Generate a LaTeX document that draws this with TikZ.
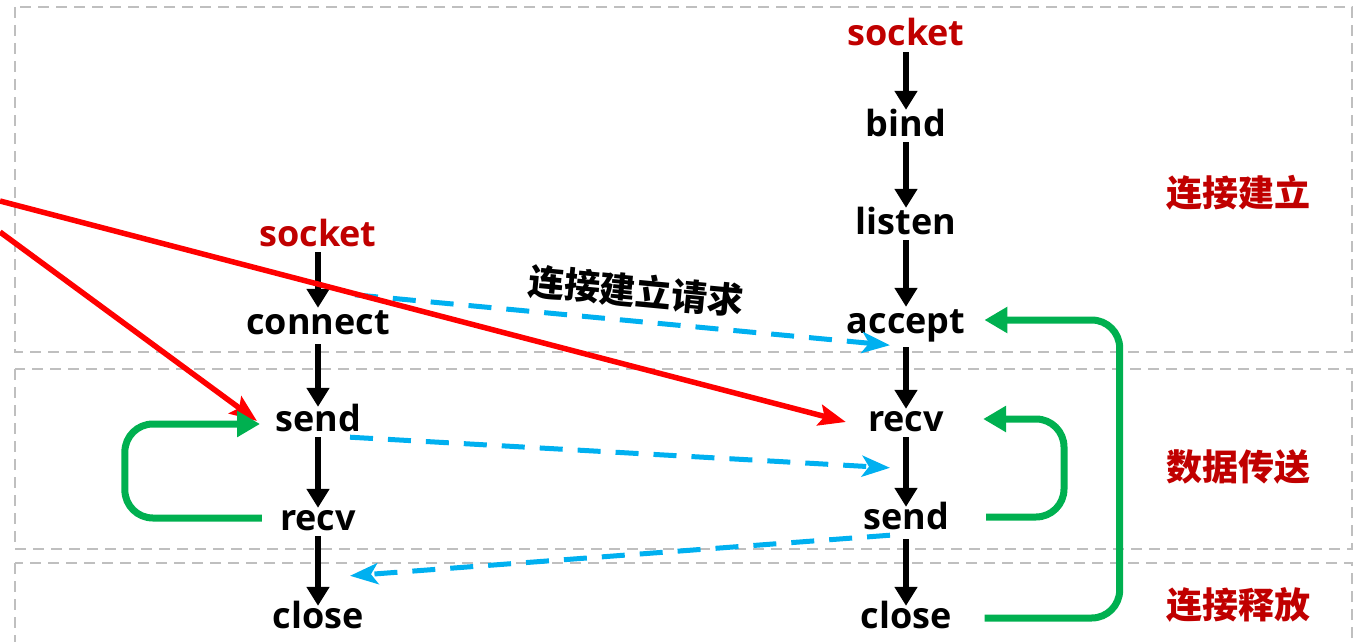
\documentclass[tikz,border=0pt]{standalone}
\usepackage{fontspec}
\setmainfont{Open Sans}
\newfontfamily\cjk{Noto Sans CJK SC}
\usetikzlibrary{arrows.meta,calc}
\definecolor{sred}{HTML}{C00000}
\definecolor{lred}{HTML}{FF0000}
\definecolor{lblue}{HTML}{00B0F0}
\definecolor{lgreen}{HTML}{00B050}
\definecolor{lgray}{HTML}{BFBFBF}
\begin{document}
\begin{tikzpicture}[x=1pt,y=-1pt,
  lbl/.style={font=\fontsize{36}{40}\selectfont\bfseries, inner sep=0pt, text height=26pt, text depth=6pt, anchor=base},
  redlbl/.style={lbl,text=sred},
  phase/.style={font=\cjk\fontsize{36}{40}\selectfont\bfseries, text=sred, inner sep=0pt},
  flow/.style={line width=6.5pt, -{Triangle[length=19pt,width=22pt]}},
  msg/.style={draw=lblue, line width=5pt, dash pattern=on 23pt off 15pt, -{Stealth[length=28pt,width=21pt,inset=7pt]}},
  redarrow/.style={draw=lred, line width=5.5pt, -{Stealth[length=27pt,width=21pt,inset=5pt]}},
  loopline/.style={draw=lgreen, line width=7pt, rounded corners=28pt, -{Triangle[length=23pt,width=25pt]}},
  area/.style={draw=lgray, line width=2pt, dash pattern=on 11pt off 7pt}
]
\useasboundingbox (0,0) rectangle (1360,642);
\clip (0,0) rectangle (1360,642);
% phase areas
\draw[area] (15,7) rectangle (1352,352);
\draw[area] (15,369) rectangle (1352,549);
\draw[area] (15,563) rectangle (1352,670);
% client column
\node[redlbl] (ls) at (318,246) {socket};
\node[lbl] (lc) at (318,334) {connect};
\node[lbl] (lsd) at (318,431) {send};
\node[lbl] (lr) at (318,530) {recv};
\node[lbl] (lcl) at (318,628) {close};
% server column
\node[redlbl] (rs) at (906,46) {socket};
\node[lbl] (rb) at (906,136) {bind};
\node[lbl] (rl) at (906,234) {listen};
\node[lbl] (ra) at (906,333) {accept};
\node[lbl] (rr) at (906,431) {recv};
\node[lbl] (rsd) at (906,529) {send};
\node[lbl] (rcl) at (906,628) {close};
% phase labels
\node[phase] (p1) at (1238,193) {连接建立};
\node[phase] (p2) at (1238,467) {数据传送};
\node[phase] (p3) at (1238,605) {连接释放};
% flow arrows
\draw[flow] (ls.south) -- (lc.north);
\draw[flow] ([yshift=-4pt]lc.south) -- ([yshift=-2pt]lsd.north);
\draw[flow] (lsd.south) -- ([yshift=-4pt]lr.north);
\draw[flow] (lr.south) -- ([yshift=-4pt]lcl.north);
\draw[flow] (rs.south) -- (rb.north);
\draw[flow] (rb.south) -- (rl.north);
\draw[flow] (rl.south) -- (ra.north);
\draw[flow] ([yshift=-8pt]ra.south) -- ([yshift=-4pt]rr.north);
\draw[flow] (rr.south) -- ([yshift=-4pt]rsd.north);
\draw[flow] ([yshift=-4pt]rsd.south) -- ([yshift=-4pt]rcl.north);
% messages
\draw[msg] ($(lc.north)+(37,-13)$) -- node[pos=0.52, sloped, above=10pt, font=\cjk\fontsize{36}{40}\selectfont\bfseries, inner sep=0pt] (req) {连接建立请求} ($(ra.south)+(-16,6)$);
\draw[msg] ($(lsd.south)+(32,0)$) -- ($(rsd.north)+(-16,-35)$);
\draw[msg] ($(rsd.south)+(-16,0)$) -- ($(lcl.north)+(32,-26)$);
% red lines
\coordinate (e1) at (0,201);
\coordinate (e2) at (0,232);
\draw[redarrow] (e1) -- ([xshift=-22pt,yshift=-1pt]rr.west);
\draw[redarrow] (e2) -- ([xshift=-18pt]lsd.west);
% green loops
\draw[loopline] ([xshift=-18pt,yshift=2pt]lr.west) -- ++(-137,0) |- ([xshift=-15pt,yshift=-3pt]lsd.west);
\draw[loopline] ([xshift=37pt,yshift=2pt]rsd.east) -- ++(78,0) |- ([xshift=39pt,yshift=2pt]rr.east);
\draw[loopline] ([xshift=33pt]rcl.east) -- ++(135,0) |- ([xshift=19pt,yshift=3pt]ra.east);
\end{tikzpicture}
\end{document}
